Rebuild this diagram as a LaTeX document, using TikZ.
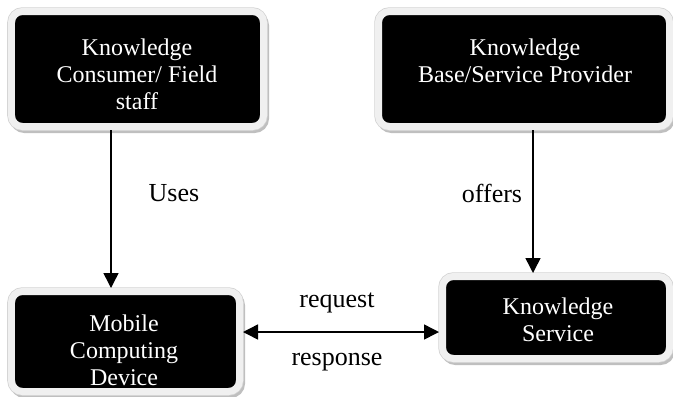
\documentclass[tikz,border=0pt]{standalone}
\usepackage{fontspec}
\setmainfont{Liberation Serif}
\usetikzlibrary{arrows.meta,shadows}
\begin{document}
\begin{tikzpicture}[x=1bp,y=-1bp,
  kbox/.style={rectangle, fill=black, draw=gray!12, line width=7bp, rounded corners=11bp, inner sep=0pt,
    general shadow={draw=gray!50, fill=gray!50, line width=7bp, shadow xshift=2bp, shadow yshift=-3bp},
    preaction={draw=gray!35, line width=8.5bp}},
  ktext/.style={text=white, align=center, font=\fontsize{24bp}{27bp}\selectfont, inner sep=0pt},
  lbl/.style={text=black, font=\fontsize{26bp}{30bp}\selectfont, inner sep=0pt},
  arr/.style={line width=1.5bp, -{Triangle[length=15bp,width=15bp]}},
  darr/.style={line width=1.5bp, {Triangle[length=15bp,width=15bp]}-{Triangle[length=15bp,width=15bp]}}]
\useasboundingbox (0,0) rectangle (673,396);
\node[kbox, minimum width=252bp, minimum height=115bp] (b1) at (137.5,69) {};
\node[kbox, minimum width=291bp, minimum height=115bp] (b2) at (524,69) {};
\node[kbox, minimum width=228bp, minimum height=100bp] (mob) at (125.5,341.5) {};
\node[kbox, minimum width=227bp, minimum height=82bp] (ks) at (556,317.5) {};
\node[ktext] (t1) at (137,74) {Knowledge\\Consumer/ Field\\staff};
\node[ktext] (t2) at (525,61) {Knowledge\\Base/Service Provider};
\node[ktext] (t3) at (124,350) {Mobile\\Computing\\Device};
\node[ktext] (t4) at (558,320) {Knowledge\\Service};
\coordinate (ux) at (111,0);
\coordinate (ox) at (533,0);
\coordinate (ry) at (0,332);
\draw[arr] (b1.south -| ux) -- (mob.north -| ux);
\draw[arr] (b2.south -| ox) -- (ks.north -| ox);
\draw[darr] (mob.east |- ry) -- (ks.west |- ry);
\node[lbl] (uses) at (174,193) {Uses};
\node[lbl] (offers) at (492,193) {offers};
\node[lbl] (req) at (337,303) {request};
\node[lbl] (resp) at (337,362) {response};
\end{tikzpicture}
\end{document}
